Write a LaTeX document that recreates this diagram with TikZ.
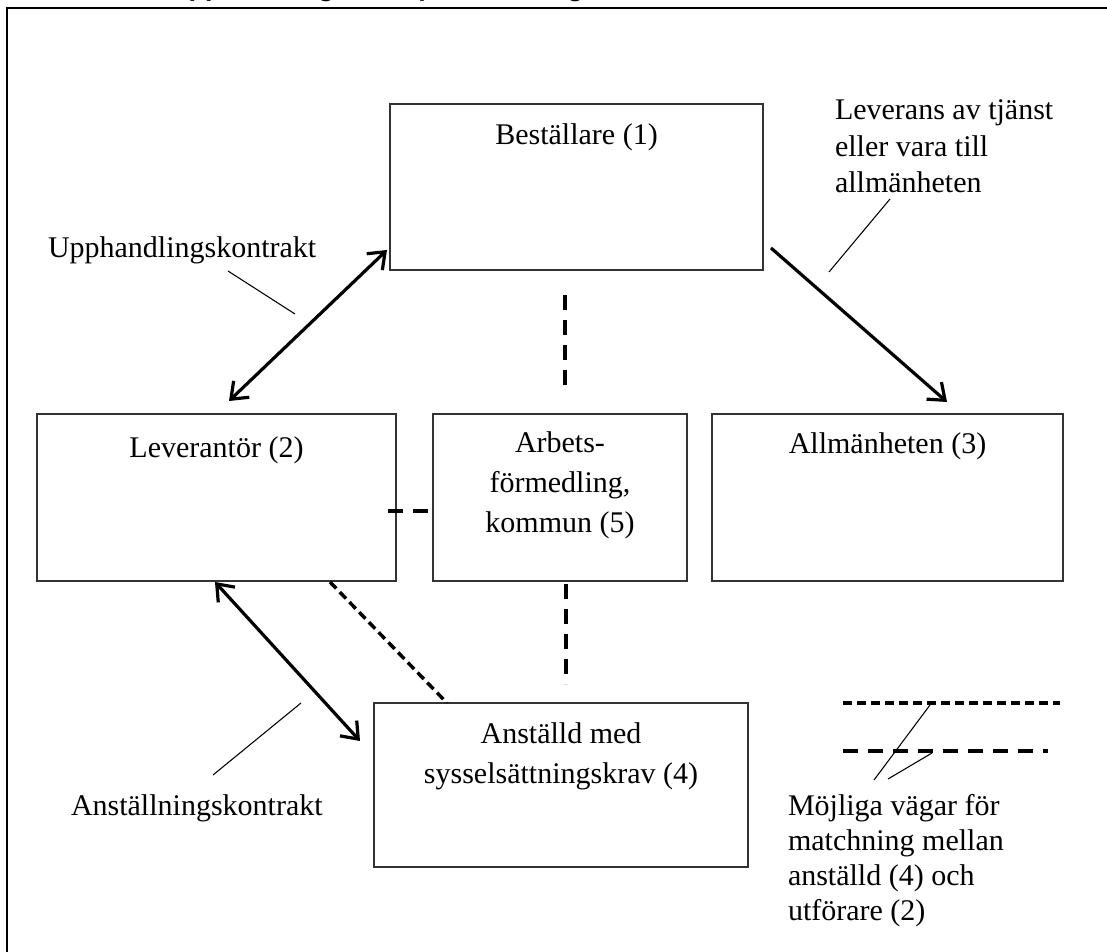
\documentclass[tikz,border=0pt]{standalone}
\usepackage{fontspec}
\setmainfont{Liberation Serif}
\newfontfamily\titlefont{Carlito}
\usetikzlibrary{arrows.meta,calc,fit}
\begin{document}
\begin{tikzpicture}[x=0.75pt,y=-0.75pt,
  box/.style={draw=black!80, line width=1pt, rectangle, inner sep=0pt, outer sep=0pt},
  lbl/.style={inner sep=0pt, outer sep=0pt, font=\fontsize{22.5}{27}\selectfont},
  conn/.style={line width=2.4pt, >={Straight Barb[length=11pt,width=17pt]}},
  longdash/.style={line width=3pt, dash pattern=on 11.25pt off 7.5pt},
  shortdash/.style={line width=2.6pt, dash pattern=on 6.75pt off 3.75pt},
  leader/.style={line width=0.8pt},
  frame/.style={line width=2.2pt}
]
\useasboundingbox (0,0) rectangle (1107,952);
% title, cut off at the top edge as in the reference
\begin{scope}
\clip (0,0) rectangle (1107,952);
\node[anchor=base west, inner sep=0pt, font=\titlefont\bfseries\fontsize{23.25}{28}\selectfont] (title) at (168,-3.5) {Upphandling med sysselsättningskrav};
\end{scope}
% frame
\draw[frame] (1107,8) -- (7,8) -- (7,952);

% boxes
\node[box, fit={(390,104) (763,270)}] (best) {};
\node[box, fit={(37,414) (396,581)}] (lev) {};
\node[box, fit={(433,414) (687,581)}] (arb) {};
\node[box, fit={(712,414) (1063,581)}] (allm) {};
\node[box, fit={(374,703) (748,867)}] (anst) {};

% box labels (multi-line nodes: base = last line)
\node[lbl, anchor=base] (bestl) at (576.5,145) {Beställare (1)};
\node[lbl, anchor=base] (levl) at (216.5,457) {Leverantör (2)};
\node[lbl, anchor=base, align=center, font=\fontsize{22.5}{30}\selectfont] (arbl) at (560,532) {Arbets-\\förmedling,\\kommun (5)};
\node[lbl, anchor=base] (allml) at (887.5,453) {Allmänheten (3)};
\node[lbl, anchor=base, align=center, font=\fontsize{22.5}{30}\selectfont] (anstl) at (561,783) {Anställd med\\sysselsättningskrav (4)};

% free labels
\node[lbl, anchor=base west] (uk) at (48,258) {Upphandlingskontrakt};
\node[lbl, anchor=base west, align=left, font=\fontsize{22.5}{27.5}\selectfont] (levtxt) at (835,193) {Leverans av tjänst\\eller vara till\\allmänheten};
\node[lbl, anchor=base west] (ak) at (71,815) {Anställningskontrakt};
\node[lbl, anchor=base west, align=left, font=\fontsize{22.5}{26.25}\selectfont] (legtxt) at (788,920) {Möjliga vägar för\\matchning mellan\\anställd (4) och\\utförare (2)};

% solid connectors
\draw[conn,<->] ($(best.south west)+(-3,-20)$) -- ($(lev.north)+(12.5,-13)$);
\draw[conn,->] ($(best.south east)+(8,-22)$) -- ($(allm.north)+(59.5,-12)$);
\draw[conn,<->] ($(lev.south)+(-1.5,1)$) -- ($(anst.north west)+(-14,38)$);

% dashed connectors
\draw[longdash] ($(best.south)+(-11.5,25)$) -- ($(arb.north)+(5,-21)$);
\draw[longdash] ($(arb.south)+(6,3)$) -- ($(anst.north)+(5,-19)$);
\draw[longdash] ($(lev.east)+(-8,13)$) -- ($(arb.west)+(-1,13)$);
\draw[shortdash] ($(lev.south east)+(-66,1)$) -- ($(anst.north west)+(73,0)$);

% leader lines for labels
\coordinate (ukA) at (228,271);
\coordinate (ukB) at (295,314);
\draw[leader] (ukA) -- (ukB);
\coordinate (lvA) at (890,199);
\coordinate (lvB) at (829,272);
\draw[leader] (lvA) -- (lvB);
\coordinate (akA) at (301,703);
\coordinate (akB) at (213,775);
\draw[leader] (akA) -- (akB);

% legend
\coordinate (lg1a) at (843,703);
\coordinate (lg1b) at (1060,703);
\coordinate (lg2a) at (843,751);
\coordinate (lg2b) at (1048,751);
\draw[shortdash] (lg1a) -- (lg1b);
\draw[longdash] (lg2a) -- (lg2b);
\coordinate (lgp1) at (930,705);
\coordinate (lgq1) at (874,780);
\coordinate (lgp2) at (932,753);
\coordinate (lgq2) at (888,779);
\draw[leader] (lgp1) -- (lgq1);
\draw[leader] (lgp2) -- (lgq2);
\end{tikzpicture}
\end{document}
